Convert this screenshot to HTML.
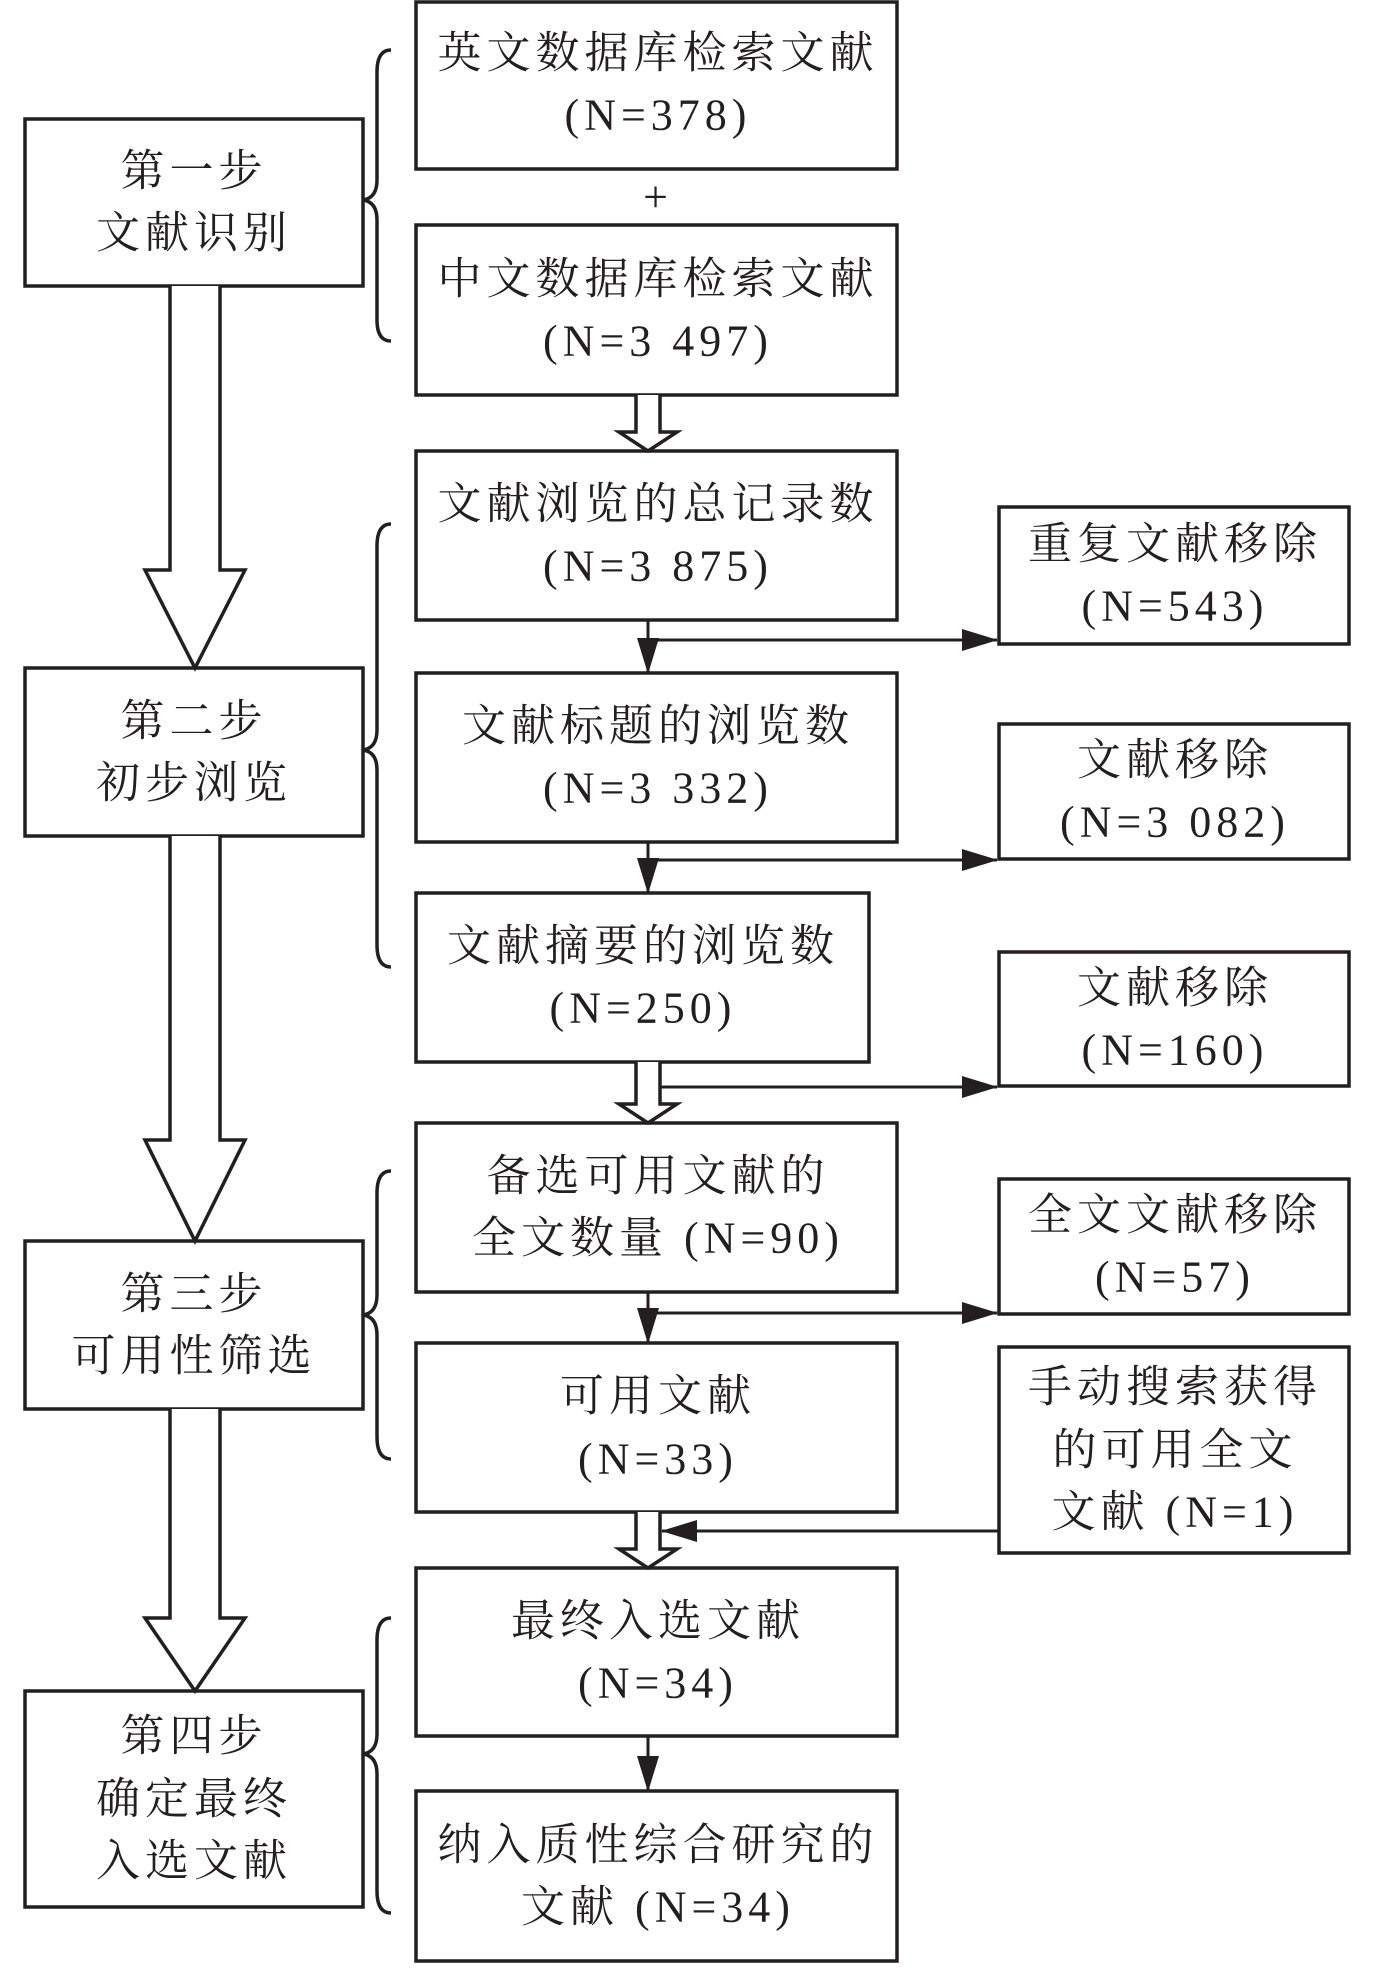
<!DOCTYPE html>
<html><head><meta charset="utf-8"><style>
html,body{margin:0;padding:0;background:#fff}
svg text{font-family:"Liberation Serif","Noto Serif CJK SC",serif;font-size:44px;fill:#231f20;letter-spacing:5px}
</style></head><body>
<svg width="1378" height="1972" viewBox="0 0 1378 1972" xmlns="http://www.w3.org/2000/svg">
<defs><marker id="a" markerWidth="14" markerHeight="10" refX="13" refY="5" orient="auto" markerUnits="userSpaceOnUse"><path d="M0,0 L14,5 L0,10 Z" fill="#231f20"/></marker>
<marker id="b" markerWidth="36" markerHeight="22" refX="35" refY="11" orient="auto" markerUnits="userSpaceOnUse"><path d="M0,0 L36,11 L0,22 Z" fill="#231f20"/></marker></defs>
<g fill="none" stroke="#231f20" stroke-width="3.5">
<!-- left boxes -->
<rect x="25" y="119" width="338" height="167"/>
<rect x="25" y="668" width="338" height="168"/>
<rect x="25" y="1241" width="338" height="168"/>
<rect x="25" y="1691" width="338" height="216"/>
<!-- center boxes -->
<rect x="416" y="2" width="481" height="167"/>
<rect x="416" y="225" width="481" height="170"/>
<rect x="416" y="451" width="481" height="169"/>
<rect x="416" y="673" width="481" height="169"/>
<rect x="416" y="893" width="453" height="169"/>
<rect x="416" y="1123" width="481" height="169"/>
<rect x="416" y="1343" width="481" height="169"/>
<rect x="416" y="1568" width="481" height="168"/>
<rect x="416" y="1791" width="481" height="170"/>
<!-- right boxes -->
<rect x="999" y="507" width="350" height="137"/>
<rect x="999" y="724" width="350" height="135"/>
<rect x="999" y="952" width="350" height="134"/>
<rect x="999" y="1179" width="350" height="135"/>
<rect x="999" y="1347" width="350" height="206"/>
<!-- big hollow arrows -->
<path d="M170,286 L170,570 L145,570 L195,668 L245,570 L220,570 L220,286" fill="#fff"/>
<path d="M170,836 L170,1140 L145,1140 L195,1241 L245,1140 L220,1140 L220,836" fill="#fff"/>
<path d="M170,1409 L170,1618 L145,1618 L195,1691 L245,1618 L220,1618 L220,1409" fill="#fff"/>
<!-- small hollow arrows -->
<path d="M636,395 L636,432 L619,432 L648,451 L677,432 L660,432 L660,395" fill="#fff"/>
<path d="M636,1062 L636,1104 L619,1104 L648,1123 L677,1104 L660,1104 L660,1062" fill="#fff"/>
<path d="M636,1512 L636,1549 L619,1549 L648,1568 L677,1549 L660,1549 L660,1512" fill="#fff"/>
<!-- braces -->
<path d="M391,50 Q377,50 377,72 L377,180 Q377,198 363,200 Q377,202 377,220 L377,320 Q377,341 391,341"/>
<path d="M391,524 Q377,524 377,546 L377,730 Q377,748 363,750 Q377,752 377,770 L377,945 Q377,967 391,967"/>
<path d="M391,1171 Q377,1171 377,1193 L377,1295 Q377,1313 363,1315 Q377,1317 377,1335 L377,1437 Q377,1459 391,1459"/>
<path d="M391,1618 Q377,1618 377,1640 L377,1734 Q377,1752 363,1754 Q377,1756 377,1774 L377,1891 Q377,1913 391,1913"/>
</g>
<g stroke="#231f20" stroke-width="3" fill="none">
<line x1="648" y1="620" x2="648" y2="673" marker-end="url(#b)"/>
<line x1="648" y1="640" x2="997" y2="640" marker-end="url(#b)"/>
<line x1="648" y1="842" x2="648" y2="893" marker-end="url(#b)"/>
<line x1="648" y1="860" x2="997" y2="860" marker-end="url(#b)"/>
<line x1="660" y1="1087" x2="997" y2="1087" marker-end="url(#b)"/>
<line x1="648" y1="1292" x2="648" y2="1343" marker-end="url(#b)"/>
<line x1="648" y1="1313" x2="997" y2="1313" marker-end="url(#b)"/>
<line x1="999" y1="1531" x2="662" y2="1531" marker-end="url(#b)"/>
<line x1="648" y1="1736" x2="648" y2="1791" marker-end="url(#b)"/>
</g>
<g text-anchor="middle" dominant-baseline="central">
<text x="194" y="171">第一步</text><text x="194" y="233">文献识别</text>
<text x="194" y="721">第二步</text><text x="194" y="783">初步浏览</text>
<text x="194" y="1294">第三步</text><text x="194" y="1356">可用性筛选</text>
<text x="194" y="1736">第四步</text><text x="194" y="1799">确定最终</text><text x="194" y="1861">入选文献</text>
<text x="658" y="53">英文数据库检索文献</text><text x="658" y="115">(N=378)</text>
<text x="658" y="197">+</text>
<text x="658" y="279">中文数据库检索文献</text><text x="658" y="341">(N=3 497)</text>
<text x="658" y="504">文献浏览的总记录数</text><text x="658" y="566">(N=3 875)</text>
<text x="658" y="726">文献标题的浏览数</text><text x="658" y="788">(N=3 332)</text>
<text x="643" y="946">文献摘要的浏览数</text><text x="643" y="1008">(N=250)</text>
<text x="658" y="1176">备选可用文献的</text><text x="658" y="1238">全文数量 (N=90)</text>
<text x="658" y="1396">可用文献</text><text x="658" y="1459">(N=33)</text>
<text x="658" y="1621">最终入选文献</text><text x="658" y="1683">(N=34)</text>
<text x="658" y="1845">纳入质性综合研究的</text><text x="658" y="1907">文献 (N=34)</text>
<text x="1175" y="544">重复文献移除</text><text x="1175" y="606">(N=543)</text>
<text x="1175" y="760">文献移除</text><text x="1175" y="822">(N=3 082)</text>
<text x="1175" y="988">文献移除</text><text x="1175" y="1050">(N=160)</text>
<text x="1175" y="1215">全文文献移除</text><text x="1175" y="1277">(N=57)</text>
<text x="1175" y="1387">手动搜索获得</text><text x="1175" y="1450">的可用全文</text><text x="1175" y="1512">文献 (N=1)</text>
</g>
</svg>
</body></html>
